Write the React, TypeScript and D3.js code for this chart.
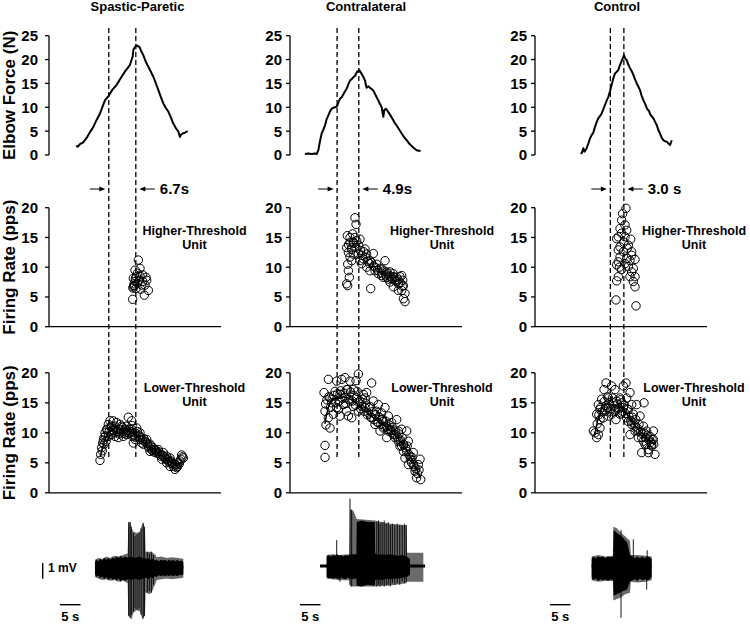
import React from 'react';
import * as d3 from 'd3';

// ---------------- DATA ----------------
const GROUPS = ['Spastic-Paretic', 'Contralateral', 'Control'];
const INTERVAL_LABELS = ['6.7s', '4.9s', '3.0 s'];
const FORCE_TICKS = [0, 5, 10, 15, 20, 25];
const RATE_TICKS = [0, 5, 10, 15, 20];
const HT_LABEL = ['Higher-Threshold', 'Unit'];
const LT_LABEL = ['Lower-Threshold', 'Unit'];
const FORCE_TITLE = 'Elbow Force (N)';
const RATE_TITLE = 'Firing Rate (pps)';
const MV_LABEL = '1 mV';
const SEC_LABEL = '5 s';

// marker (dashed line) times, s
const MARKERS = [[14.6, 21.2], [11.5, 16.8], [18.4, 21.7]];

// elbow force [time s, N]
const FORCE_SP = [[6.67,2.0],[7.0,1.7],[7.57,2.3],[8.3,2.6],[9.36,3.8],[10.1,4.9],[10.83,5.9],[11.6,7.3],[12.45,8.7],[13.1,10.2],[13.68,11.5],[14.1,11.9],[14.57,12.4],[15.5,13.7],[16.53,14.7],[17.5,16.1],[18.56,17.5],[19.2,18.2],[19.78,18.9],[20.1,19.8],[20.43,20.6],[20.6,22.0],[20.76,22.3],[21.0,22.6],[21.41,23.0],[21.7,22.8],[22.06,22.7],[22.5,21.8],[23.04,20.9],[23.6,19.6],[24.26,18.5],[24.9,17.4],[25.48,16.4],[26.1,15.0],[26.7,13.6],[27.3,12.2],[27.92,10.8],[28.5,9.9],[29.14,9.1],[29.8,7.8],[30.36,6.6],[31.0,5.6],[31.58,4.9],[31.99,3.8],[32.3,4.3],[32.64,4.5],[33.2,4.7],[33.86,5.0]];
const FORCE_CL = [[3.66,0.2],[4.5,0.3],[5.3,0.2],[6.1,0.3],[6.51,0.2],[6.92,1.0],[7.3,2.8],[7.73,4.5],[8.1,5.2],[8.55,6.2],[8.9,7.4],[9.36,8.3],[9.8,9.2],[10.18,9.7],[10.6,9.9],[10.99,10.0],[11.3,10.1],[11.56,10.4],[11.9,11.2],[12.21,11.8],[12.6,12.1],[13.03,12.7],[13.4,13.3],[13.84,13.9],[14.25,14.8],[14.65,15.6],[15.06,15.9],[15.47,16.3],[15.9,16.6],[16.28,17.3],[16.6,17.6],[16.93,17.8],[17.2,17.4],[17.5,17.0],[17.9,16.4],[18.32,15.6],[18.5,14.8],[18.72,14.1],[19.2,14.4],[19.6,14.0],[20.0,13.8],[20.35,13.5],[20.76,12.8],[21.16,12.1],[21.8,11.0],[22.38,10.0],[22.6,8.9],[22.79,8.0],[23.0,9.4],[23.4,9.7],[24.0,9.0],[24.6,8.2],[25.23,7.3],[25.6,6.7],[26.05,6.2],[26.7,5.3],[27.27,4.5],[27.9,3.7],[28.49,3.1],[29.1,2.4],[29.71,1.9],[30.3,1.4],[30.93,1.0],[31.4,0.9],[31.91,0.9]];
const FORCE_CT = [[11.23,0.2],[11.5,0.6],[11.8,1.4],[12.1,0.7],[12.5,1.2],[13.02,2.4],[13.4,3.4],[13.84,4.2],[14.2,4.6],[14.65,5.9],[15.06,6.9],[15.47,7.7],[15.9,8.2],[16.28,8.7],[16.7,9.6],[17.09,10.5],[17.5,11.4],[17.91,12.2],[18.3,13.3],[18.72,14.7],[19.1,16.0],[19.54,17.1],[19.9,17.4],[20.35,17.8],[20.6,18.5],[20.93,19.2],[21.3,20.0],[21.73,20.9],[22.05,20.2],[22.39,19.9],[22.8,18.9],[23.2,18.2],[23.6,17.6],[24.02,16.8],[24.4,15.9],[24.83,15.0],[25.2,14.4],[25.64,13.6],[26.0,12.5],[26.46,11.5],[27.0,10.5],[27.4,9.6],[27.68,9.4],[27.9,9.1],[28.1,8.6],[28.5,8.1],[28.9,7.7],[29.3,7.0],[29.71,6.3],[30.1,5.3],[30.53,4.5],[30.9,3.7],[31.34,3.1],[31.7,2.9],[32.16,2.8],[32.6,2.4],[32.97,2.1],[33.2,2.6],[33.38,3.1]];

// higher-threshold unit firing rate [time s, pps]
const HT_SP = [[21.81,11.2],[22.22,9.8],[21.0,9.5],[21.41,8.4],[22.22,8.5],[22.87,8.7],[23.85,7.8],[23.44,7.0],[24.26,6.1],[23.28,5.3],[20.43,4.6],[20.59,6.7],[21.0,7.6],[21.57,7.3],[22.63,7.0],[20.59,8.1],[22.06,7.8],[21.25,6.4],[20.84,6.9],[23.69,8.3],[21.6,9.0],[22.4,6.3],[20.8,7.2],[20.5,6.5],[20.7,6.9],[21.1,8.1],[22.9,7.6]];
const HT_CL = [[15.87,18.3],[16.12,17.2],[14.0,15.3],[14.65,15.0],[17.09,14.7],[15.47,14.2],[13.84,13.3],[14.25,12.5],[14.65,11.7],[15.06,11.1],[14.25,9.4],[14.49,8.3],[13.84,7.2],[14.08,6.9],[16.12,13.3],[16.69,12.2],[18.32,13.05],[18.72,12.2],[20.35,12.3],[17.91,11.4],[19.54,11.1],[21.16,10.5],[23.2,11.1],[22.38,9.7],[23.61,9.2],[24.42,9.2],[25.23,8.9],[26.05,8.3],[26.86,8.4],[27.27,8.6],[27.52,7.8],[27.68,6.9],[28.08,5.6],[28.08,4.2],[27.68,4.7],[26.46,6.1],[25.23,6.7],[24.42,7.5],[22.79,8.3],[21.57,8.9],[19.7,6.4],[19.54,9.4],[20.76,9.4],[18.72,10.0],[17.5,10.6],[17.09,11.1],[15.47,12.2],[15.06,13.3],[24.01,8.0],[25.64,7.8],[26.46,7.2],[27.27,6.1],[22.38,8.6],[23.61,8.3],[24.83,8.3],[14.1,10.5],[14.3,13.8],[14.7,14.2],[15.0,13.0],[15.3,15.6],[15.6,14.0],[15.9,15.0],[16.3,14.4],[16.8,13.6],[17.2,12.8],[17.6,12.0],[18.0,12.6],[18.5,11.6],[19.0,11.0],[19.4,10.6],[19.9,10.8],[20.4,10.2],[20.9,9.9],[21.4,9.5],[21.9,9.8],[22.4,9.0],[22.9,9.4],[23.4,8.7],[23.9,8.9],[24.4,8.5],[24.9,8.0],[25.4,8.4],[25.9,7.6],[26.4,7.9],[26.9,7.4],[27.4,6.8]];
const HT_CT = [[22.22,19.9],[21.41,19.0],[21.98,17.1],[22.39,16.2],[20.76,16.5],[21.16,15.7],[20.35,15.1],[19.94,14.8],[23.36,14.7],[22.79,13.7],[20.76,13.4],[20.35,12.9],[23.6,12.6],[23.6,12.0],[24.42,11.3],[20.35,10.9],[19.94,10.4],[20.6,10.0],[24.01,9.8],[23.6,9.2],[20.35,8.4],[19.94,7.7],[24.42,8.4],[24.01,7.6],[24.42,6.7],[19.78,4.5],[24.66,3.5],[21.98,15.1],[21.57,12.6],[22.39,11.5],[21.98,10.6],[22.79,10.1],[21.16,17.9],[21.73,14.2],[22.55,13.2],[23.2,11.1],[20.76,11.7],[21.16,9.6],[23.2,8.4]];

// lower-threshold unit firing rate [time s, pps]
const LT_SP = [[12.45,5.4],[12.62,6.4],[12.86,7.5],[13.11,8.3],[13.43,9.2],[13.68,10.0],[14.08,10.6],[14.49,11.4],[14.9,12.0],[15.3,11.1],[15.71,12.0],[16.12,11.1],[16.12,9.4],[16.52,11.7],[16.93,10.6],[17.34,10.0],[17.75,11.1],[18.15,10.3],[18.56,10.6],[18.97,9.7],[19.37,12.6],[19.78,10.6],[20.19,12.0],[20.43,9.4],[20.59,8.3],[21.0,10.0],[21.41,10.8],[21.82,9.4],[22.22,8.9],[22.63,8.3],[23.04,8.1],[23.85,8.9],[24.26,7.8],[24.66,8.1],[25.07,7.2],[25.48,7.5],[26.29,6.9],[26.7,7.2],[27.11,6.4],[27.92,6.7],[28.33,5.8],[28.73,6.1],[29.14,5.3],[29.55,5.8],[29.96,5.0],[30.36,4.4],[30.77,4.7],[31.18,4.2],[31.58,5.0],[31.99,5.3],[32.4,6.3],[32.8,5.8],[14.49,9.4],[15.3,9.7],[16.93,9.2],[18.15,9.4],[19.37,10.0],[20.19,10.6],[21.0,8.9],[22.22,10.0],[23.44,8.6],[24.66,6.9],[25.89,6.7],[27.51,5.6],[28.73,5.0],[29.55,4.4],[30.77,3.9],[15.71,10.3],[17.34,11.4],[18.97,11.1],[13.43,8.1],[13.92,8.6],[13.0,7.0],[13.3,8.8],[13.8,9.5],[14.2,10.5],[14.7,10.2],[15.1,10.9],[15.5,10.4],[15.9,10.0],[16.3,10.6],[16.7,10.2],[17.1,9.8],[17.5,10.5],[17.9,10.9],[18.3,9.9],[18.7,10.1],[19.1,10.4],[19.6,9.9],[20.0,10.2],[20.3,11.2],[20.8,9.6],[21.2,9.2],[21.6,10.2],[22.0,9.6],[22.4,9.2],[22.8,8.8],[23.2,9.0],[23.6,8.4],[24.0,8.2],[24.4,7.5],[24.9,7.8],[25.3,7.0],[25.7,7.2],[26.1,7.1],[26.5,6.6],[26.9,6.8],[27.3,6.1],[27.7,6.3],[28.1,6.0],[28.5,5.6],[28.9,5.7],[29.3,5.2],[29.8,5.3],[30.2,4.8],[30.6,4.9],[31.0,4.6],[31.4,4.4],[31.8,4.8],[32.2,5.6],[32.6,6.0]];
const LT_CL = [[8.55,5.9],[8.55,7.9],[8.79,11.3],[8.55,13.6],[8.3,16.7],[9.36,18.9],[9.77,15.8],[10.18,15.0],[10.99,16.9],[11.4,18.6],[11.8,13.9],[12.21,16.4],[12.62,18.9],[13.43,19.2],[13.84,17.2],[14.25,12.8],[14.65,18.6],[15.06,12.5],[15.47,17.2],[16.12,18.7],[16.69,19.8],[17.09,15.3],[17.91,16.4],[18.32,14.2],[18.72,16.7],[19.94,18.3],[20.35,15.3],[20.76,11.4],[21.16,13.6],[21.57,14.7],[21.98,10.3],[22.38,13.3],[22.79,11.9],[23.2,14.2],[23.61,9.2],[24.01,12.8],[24.42,10.6],[24.83,11.7],[25.23,9.7],[26.05,12.2],[26.46,10.3],[26.86,8.6],[27.27,10.6],[27.68,8.1],[28.49,10.3],[28.9,8.6],[28.49,6.9],[28.9,4.7],[29.3,6.1],[29.71,5.0],[30.12,6.7],[30.53,3.6],[30.93,2.5],[31.34,4.7],[31.75,5.6],[31.91,2.2],[30.12,4.7],[11.4,14.2],[13.02,14.7],[14.65,15.3],[16.28,15.8],[17.5,14.4],[19.13,13.3],[19.94,12.5],[21.57,11.7],[22.79,10.8],[24.01,10.3],[25.64,9.2],[26.86,7.8],[27.68,6.9],[9.36,12.5],[9.77,10.8],[10.58,13.1],[12.21,12.8],[13.43,15.8],[13.84,13.6],[15.47,14.4],[16.69,13.6],[18.32,15.8],[19.54,14.4],[20.76,13.1],[22.38,12.2],[23.61,11.1],[24.83,10.0],[26.46,8.6],[27.27,7.8],[28.08,5.8],[8.7,14.8],[9.0,15.5],[9.5,16.0],[9.9,14.2],[10.3,15.6],[10.7,16.2],[11.1,15.0],[11.6,16.5],[12.0,15.3],[12.4,17.0],[12.8,15.8],[13.2,16.6],[13.6,14.9],[14.0,17.2],[14.4,15.6],[14.8,16.8],[15.2,15.3],[15.6,16.2],[16.0,14.6],[16.4,16.9],[16.9,15.0],[17.3,14.0],[17.7,15.6],[18.1,13.6],[18.5,14.9],[18.9,13.0],[19.3,14.2],[19.7,12.6],[20.1,13.5],[20.5,12.2],[20.9,13.0],[21.3,11.8],[21.8,12.6],[22.2,11.4],[22.6,12.3],[23.0,11.0],[23.4,11.9],[23.8,10.6],[24.2,11.3],[24.6,10.4],[25.0,10.9],[25.4,9.8],[25.8,10.3],[26.2,9.3],[26.6,9.8],[27.0,8.8],[27.4,9.2],[27.8,8.0],[28.2,7.5],[28.6,7.8],[29.0,6.4],[29.4,5.6],[29.8,5.9],[30.3,4.4],[30.7,4.0],[31.1,3.2],[31.5,3.8]];
const LT_CT = [[14.65,10.0],[15.06,9.2],[15.47,9.7],[15.87,10.8],[15.06,13.1],[15.47,14.7],[15.87,13.9],[16.28,15.6],[16.85,17.2],[17.34,18.3],[17.5,14.2],[17.91,15.8],[18.32,13.6],[18.72,17.8],[19.13,15.0],[19.54,17.2],[19.78,12.2],[20.35,14.2],[20.76,15.8],[21.16,13.3],[21.57,17.8],[22.22,18.3],[22.39,15.8],[22.79,13.9],[23.2,16.7],[23.61,14.7],[22.79,11.9],[23.2,9.7],[24.01,13.1],[24.42,11.1],[24.83,14.7],[25.23,10.3],[25.64,12.8],[26.05,9.2],[26.46,11.1],[26.62,15.0],[27.27,10.3],[26.86,8.1],[27.68,7.2],[28.08,9.4],[28.49,8.1],[27.68,6.7],[28.9,8.9],[29.3,6.4],[28.9,10.3],[28.49,7.8],[26.05,6.7],[14.25,10.3],[16.69,12.5],[18.72,13.1],[19.94,15.3],[20.76,13.1],[21.57,14.2],[22.39,12.5],[23.61,11.4],[24.42,10.3],[25.23,9.2],[26.46,8.6],[27.27,8.1],[15.87,12.2],[17.09,13.6],[17.91,12.8],[19.54,13.6],[21.16,15.0],[15.2,11.5],[15.6,13.0],[16.0,14.2],[16.4,13.5],[16.9,15.2],[17.3,14.5],[17.7,16.0],[18.1,15.0],[18.5,14.0],[18.9,15.8],[19.3,14.5],[19.7,13.8],[20.1,14.8],[20.5,14.0],[20.9,15.5],[21.3,13.6],[21.8,14.6],[22.1,13.2],[22.5,14.0],[22.9,12.8],[23.4,12.0],[23.8,12.6],[24.2,11.6],[24.6,12.2],[25.0,10.8],[25.4,11.4],[25.8,10.2],[26.2,9.8],[26.6,10.0],[27.0,9.2],[27.4,9.6],[27.8,8.8],[28.2,8.4],[28.6,8.9],[29.0,8.1]];

// smoothed lower-threshold rate [time s, pps]
const LT_TREND_SP = [[12.5,6.0],[13.5,8.5],[14.5,10.2],[16,10.8],[18,10.5],[20,10.3],[21,9.8],[23,8.6],[25,7.5],[27,6.6],[29,5.6],[31,4.8],[32.5,5.2]];
const LT_TREND_CL = [[8.5,11.5],[9.5,14.5],[11,15.8],[13,16.0],[15,15.5],[17,14.5],[19,13.2],[21,12.2],[23,11.2],[25,10.0],[27,8.5],[29,6.5],[30.5,4.5],[31.8,2.5]];
const LT_TREND_CT = [[14.6,9.8],[15.5,12.5],[17,14.8],[19,14.6],[21,14.2],[22.5,13.0],[24,11.5],[26,10.0],[28,8.8],[29.3,8.0]];

// EMG envelopes [time s, upper mV, lower mV]
const EMG_OUTER_SP = [[11.23,0.5,-0.6],[12.0,0.6,-0.7],[13.0,0.55,-0.8],[14.0,0.7,-0.75],[14.9,0.6,-0.85],[16.0,0.75,-0.8],[17.0,0.7,-0.9],[18.15,0.8,-0.85],[19.2,0.9,-1.0],[19.37,2.6,-3.0],[19.78,2.95,-3.2],[20.2,2.5,-3.3],[20.59,2.3,-2.9],[21.41,2.2,-2.7],[22.22,2.3,-2.8],[22.8,2.8,-3.3],[23.04,2.9,-3.3],[23.44,2.4,-2.9],[23.6,1.0,-1.6],[24.5,1.0,-1.7],[25.07,1.0,-1.6],[26.0,0.8,-1.0],[26.29,0.65,-0.8],[27.5,0.7,-0.75],[28.73,0.6,-0.7],[30.0,0.65,-0.75],[31.5,0.6,-0.7],[32.8,0.55,-0.65]];
const EMG_CORE_SP = [[11.23,0.35,-0.45],[11.6,0.5,-0.6],[12.0,0.4,-0.5],[12.5,0.55,-0.7],[13.0,0.45,-0.55],[13.5,0.6,-0.75],[14.0,0.5,-0.6],[14.5,0.6,-0.8],[15.0,0.5,-0.65],[15.5,0.65,-0.8],[16.0,0.55,-0.7],[16.5,0.7,-0.85],[17.0,0.6,-0.7],[17.5,0.75,-0.9],[18.0,0.6,-0.75],[18.5,0.7,-0.85],[19.0,0.65,-0.8],[19.37,0.6,-0.7],[20.0,0.7,-0.8],[21,0.6,-0.7],[22,0.7,-0.8],[23,0.6,-0.7],[23.85,0.55,-0.65],[24.3,0.6,-0.75],[24.8,0.5,-0.6],[25.3,0.55,-0.7],[25.8,0.45,-0.55],[26.3,0.5,-0.6],[26.8,0.4,-0.5],[27.3,0.5,-0.55],[27.8,0.45,-0.5],[28.3,0.5,-0.55],[28.8,0.4,-0.5],[29.3,0.5,-0.55],[29.8,0.42,-0.48],[30.3,0.5,-0.55],[30.8,0.4,-0.5],[31.3,0.48,-0.55],[31.8,0.4,-0.48],[32.3,0.45,-0.5],[32.8,0.35,-0.45]];
const EMG_SPIKES_SP = [[19.45,2.9,-3.1],[19.8,2.9,-3.2],[20.1,2.6,-3.0],[20.6,2.2,-2.8],[21.0,2.0,-2.6],[21.5,2.1,-2.7],[22.0,2.2,-2.6],[22.5,2.5,-3.0],[23.0,2.8,-3.2],[23.3,2.6,-3.1],[24.0,1.0,-1.6],[24.5,0.9,-1.5],[25.0,1.0,-1.6],[25.5,0.8,-1.1]];
const EMG_OUTER_CL = [[8.95,0.7,-0.8],[10.5,0.75,-0.85],[12.0,0.7,-0.9],[14.5,0.75,-0.9],[14.65,3.6,-1.3],[15.5,3.5,-1.3],[16.3,3.0,-1.3],[20.8,2.9,-1.3],[24.0,2.7,-1.25],[28.4,2.6,-1.1],[28.6,0.85,-1.0],[32.56,0.85,-1.0]];
const EMG_CORE_CL = [[8.95,0.6,-0.7],[9.5,0.7,-0.8],[10,0.6,-0.75],[10.5,0.7,-0.85],[11,0.65,-0.75],[11.5,0.75,-0.8],[12,0.65,-0.85],[12.5,0.7,-0.75],[13,0.6,-0.8],[13.5,0.7,-0.85],[14,0.65,-0.75],[14.6,0.7,-0.8],[15.2,0.75,-0.85],[16.2,0.75,-0.8],[16.3,2.8,-1.25],[17.5,2.9,-1.3],[19,2.8,-1.2],[20.7,2.8,-1.25],[20.8,0.8,-0.9],[21.5,0.7,-0.85],[22.5,0.75,-0.9],[23.5,0.7,-0.8],[24.5,0.75,-0.85],[25.5,0.7,-0.8],[26.5,0.65,-0.8],[27.5,0.7,-0.75],[28.5,0.6,-0.7],[29.3,0.45,-0.55]];
const EMG_SPIKES_CL = [[11.4,1.65,-0.3],[12.2,0.4,-1.0],[14.65,4.3,-1.2],[15.06,3.6,-1.3],[21.2,2.8,-1.3],[21.6,2.9,-1.2],[22.0,2.7,-1.3],[22.5,2.8,-1.2],[23.0,2.9,-1.3],[23.5,2.7,-1.2],[24.0,2.8,-1.2],[24.5,2.6,-1.3],[25.0,2.7,-1.1],[25.6,2.6,-1.2],[26.2,2.7,-1.1],[26.8,2.6,-1.2],[27.4,2.6,-1.0],[28.0,2.7,-1.1],[28.4,2.6,-1.0]];
const EMG_OUTER_CT = [[13.84,0.6,-0.9],[15.5,0.7,-1.0],[17.0,0.6,-0.95],[19.0,0.65,-0.95],[19.13,2.5,-2.2],[20.0,2.4,-2.1],[21.0,2.1,-2.0],[22.0,1.9,-1.8],[23.2,1.6,-1.7],[23.4,0.7,-1.0],[25.0,0.7,-1.05],[27.0,0.65,-1.0],[28.49,0.6,-0.9]];
const EMG_CORE_CT = [[13.84,0.45,-0.7],[14.2,0.6,-0.9],[14.8,0.5,-0.8],[15.4,0.6,-0.95],[16,0.55,-0.85],[16.6,0.62,-0.9],[17.2,0.5,-0.85],[17.8,0.6,-0.95],[18.4,0.55,-0.85],[19.1,0.6,-0.9],[19.2,2.3,-1.9],[20,2.1,-1.8],[21.5,1.8,-1.6],[22.5,1.5,-1.5],[23.2,0.7,-1.0],[23.8,0.6,-0.9],[24.4,0.5,-0.85],[25,0.6,-0.95],[25.6,0.5,-0.8],[26.2,0.6,-0.9],[26.8,0.5,-0.85],[27.4,0.6,-0.9],[28,0.55,-0.85],[28.49,0.45,-0.7]];
const EMG_SPIKES_CT = [[21.0,2.3,-3.3],[24.01,1.7,-0.5],[27.27,0.3,-1.5],[27.4,1.0,-0.3]];
// thick EMG baseline extent [start s, end s]
const EMG_BASE = [[11.23, 32.8], [7.33, 32.97], [13.84, 28.49]];
// 5 s scale bar start, s
const SEC_BAR_START = [2.7, 2.45, 3.65];
const SEC_BAR_LEN = 5;
const MV_BAR = 1;

const FORCE = [FORCE_SP, FORCE_CL, FORCE_CT];
const HT = [HT_SP, HT_CL, HT_CT];
const LT = [LT_SP, LT_CL, LT_CT];
const LT_TREND = [LT_TREND_SP, LT_TREND_CL, LT_TREND_CT];
const EMG_OUTER = [EMG_OUTER_SP, EMG_OUTER_CL, EMG_OUTER_CT];
const EMG_CORE = [EMG_CORE_SP, EMG_CORE_CL, EMG_CORE_CT];
const EMG_SPIKES = [EMG_SPIKES_SP, EMG_SPIKES_CL, EMG_SPIKES_CT];

// ---------------- LAYOUT ----------------
const FONT = '"Liberation Sans", Arial, Helvetica, sans-serif';
const COL_X0 = [49, 290, 535];
const PLOT_W = 172;
const T_MAX = 42;
const FORCE_RANGE = [155, 35.7];
const HT_RANGE = [326.7, 207.7];
const LT_RANGE = [492.8, 372.8];
const DASH_Y = [28, 458];
const EMG_Y0 = [567.5, 566, 566];
const MV_PX = 15.7;
const TITLE_X = [137.5, 366, 617];
const UNIT_X = [194.5, 442, 694];
const LABEL_GAP = [11, 8, 8];
const ARROW_Y = 189;

function YAxis({ x, scale, ticks, gap }) {
  const max = ticks[ticks.length - 1];
  return (
    <g>
      <line x1={x} x2={x} y1={scale(max)} y2={scale(0)} stroke="#000" strokeWidth={1.3} />
      {ticks.map((t) => (
        <g key={t}>
          <line x1={x - 4} x2={x} y1={scale(t)} y2={scale(t)} stroke="#000" strokeWidth={1.3} />
          <text x={x - gap} y={scale(t)} dy="0.36em" textAnchor="end" fontSize={15} fontWeight="bold">{t}</text>
        </g>
      ))}
    </g>
  );
}

function Column({ i }) {
  const x0 = COL_X0[i];
  const xs = d3.scaleLinear().domain([0, T_MAX]).range([x0, x0 + PLOT_W]);
  const fy = d3.scaleLinear().domain([0, 25]).range(FORCE_RANGE);
  const hy = d3.scaleLinear().domain([0, 20]).range(HT_RANGE);
  const ly = d3.scaleLinear().domain([0, 20]).range(LT_RANGE);
  const ey = d3.scaleLinear().domain([-1, 1]).range([EMG_Y0[i] + MV_PX, EMG_Y0[i] - MV_PX]);
  const forceLine = d3.line().x((d) => xs(d[0])).y((d) => fy(d[1]));
  const trendLine = d3.line().x((d) => xs(d[0])).y((d) => ly(d[1])).curve(d3.curveMonotoneX);
  const area = d3.area().x((d) => xs(d[0])).y0((d) => ey(d[2])).y1((d) => ey(d[1]));
  const [m1, m2] = MARKERS[i].map((t) => xs(t));

  return (
    <g>
      <text x={TITLE_X[i]} y={11} textAnchor="middle" fontSize={13} fontWeight="bold">{GROUPS[i]}</text>

      {/* force */}
      <YAxis x={x0} scale={fy} ticks={FORCE_TICKS} gap={LABEL_GAP[i]} />
      <path d={forceLine(FORCE[i])} fill="none" stroke="#000" strokeWidth={2} strokeLinejoin="round" />

      {/* HT */}
      <YAxis x={x0} scale={hy} ticks={RATE_TICKS} gap={LABEL_GAP[i]} />
      <line x1={x0} x2={x0 + PLOT_W} y1={hy(0)} y2={hy(0)} stroke="#000" strokeWidth={1.3} />
      {HT[i].map((d, k) => (
        <circle key={k} cx={xs(d[0])} cy={hy(d[1])} r={4.2} fill="none" stroke="#000" strokeWidth={1} />
      ))}
      <text x={UNIT_X[i]} y={235} textAnchor="middle" fontSize={12.5} fontWeight="bold">{HT_LABEL[0]}</text>
      <text x={UNIT_X[i]} y={249} textAnchor="middle" fontSize={12.5} fontWeight="bold">{HT_LABEL[1]}</text>

      {/* LT */}
      <YAxis x={x0} scale={ly} ticks={RATE_TICKS} gap={LABEL_GAP[i]} />
      <line x1={x0} x2={x0 + PLOT_W} y1={ly(0)} y2={ly(0)} stroke="#000" strokeWidth={1.3} />
      {LT[i].map((d, k) => (
        <circle key={k} cx={xs(d[0])} cy={ly(d[1])} r={4.2} fill="none" stroke="#000" strokeWidth={1} />
      ))}
      <path d={trendLine(LT_TREND[i])} fill="none" stroke="#000" strokeWidth={1.5} />
      <text x={UNIT_X[i]} y={392} textAnchor="middle" fontSize={12.5} fontWeight="bold">{LT_LABEL[0]}</text>
      <text x={UNIT_X[i]} y={406} textAnchor="middle" fontSize={12.5} fontWeight="bold">{LT_LABEL[1]}</text>

      {/* dashed markers */}
      {[m1, m2].map((mx, k) => (
        <line key={k} x1={mx} x2={mx} y1={DASH_Y[0]} y2={DASH_Y[1]} stroke="#000" strokeWidth={1.3} strokeDasharray="5,3" />
      ))}

      {/* interval arrows */}
      <line x1={m1 - 19} x2={m1 - 6} y1={ARROW_Y} y2={ARROW_Y} stroke="#000" strokeWidth={1} />
      <path d={`M${m1 - 3.5},${ARROW_Y} l-6,-2.5 l0,5 z`} fill="#000" />
      <line x1={m2 + 19} x2={m2 + 6} y1={ARROW_Y} y2={ARROW_Y} stroke="#000" strokeWidth={1} />
      <path d={`M${m2 + 3.5},${ARROW_Y} l6,-2.5 l0,5 z`} fill="#000" />
      <text x={m2 + 24} y={ARROW_Y} dy="0.36em" fontSize={15} fontWeight="bold">{INTERVAL_LABELS[i]}</text>

      {/* EMG */}
      <path d={area(EMG_OUTER[i])} fill="#6a6a6a" />
      {EMG_SPIKES[i].map((d, k) => (
        <line key={k} x1={xs(d[0])} x2={xs(d[0])} y1={ey(d[1])} y2={ey(d[2])} stroke="#000" strokeWidth={0.9} />
      ))}
      <path d={area(EMG_CORE[i])} fill="#000" />
      <line x1={xs(EMG_BASE[i][0])} x2={xs(EMG_BASE[i][1])} y1={ey(0)} y2={ey(0)} stroke="#000" strokeWidth={3} />

      {/* 5 s bar */}
      <line x1={xs(SEC_BAR_START[i])} x2={xs(SEC_BAR_START[i] + SEC_BAR_LEN)} y1={604.7} y2={604.7} stroke="#000" strokeWidth={1.4} />
      <text x={xs(SEC_BAR_START[i] + SEC_BAR_LEN / 2)} y={621} textAnchor="middle" fontSize={13} fontWeight="bold">{SEC_LABEL}</text>

      {i === 0 && (
        <g>
          <line x1={42.7} x2={42.7} y1={ey(0) - 4.5} y2={ey(0) - 4.5 + MV_BAR * MV_PX} stroke="#000" strokeWidth={1.4} />
          <text x={48} y={ey(0) + 4.5} fontSize={12} fontWeight="bold">{MV_LABEL}</text>
        </g>
      )}
    </g>
  );
}

export default function App() {
  const fy = d3.scaleLinear().domain([0, 25]).range(FORCE_RANGE);
  const hy = d3.scaleLinear().domain([0, 20]).range(HT_RANGE);
  const ly = d3.scaleLinear().domain([0, 20]).range(LT_RANGE);
  const titles = [
    [FORCE_TITLE, (fy(0) + fy(25)) / 2],
    [RATE_TITLE, (hy(0) + hy(20)) / 2],
    [RATE_TITLE, (ly(0) + ly(20)) / 2],
  ];
  return (
    <svg width={750} height={624} style={{ position: 'absolute', left: 0, top: 0, background: '#fff' }} fontFamily={FONT}>
      <rect width={750} height={624} fill="#fff" />
      {titles.map(([t, cy], k) => (
        <text key={k} transform={`translate(15,${cy}) rotate(-90)`} textAnchor="middle" fontSize={17} fontWeight="bold">{t}</text>
      ))}
      {[0, 1, 2].map((i) => <Column key={i} i={i} />)}
    </svg>
  );
}
